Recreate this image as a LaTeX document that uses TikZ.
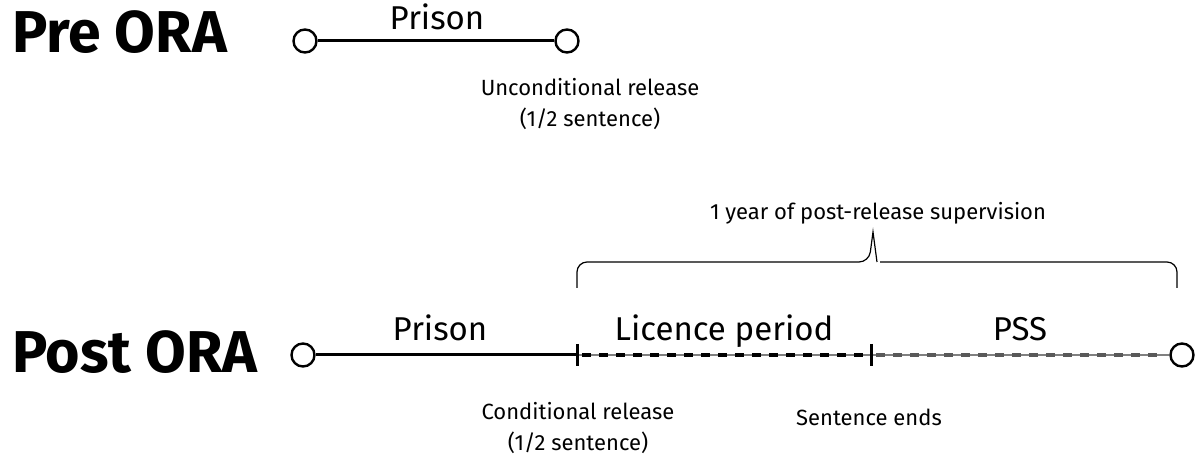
\documentclass[tikz,border=0pt]{standalone}
\usepackage{fontspec}
\setmainfont{Fira Sans}
\tikzset{
  endpt/.style={circle, draw, line width=2.4pt, minimum size=23pt, inner sep=0pt, fill=white},
  head/.style={anchor=base west, inner sep=0pt, font=\bfseries\fontsize{59}{62}\selectfont},
  period/.style={anchor=base, inner sep=0pt, font=\fontsize{33}{36}\selectfont},
  note/.style={align=center, inner sep=0pt, font=\fontsize{22}{31}\selectfont},
  dashline/.style={line width=3.5pt, dash pattern=on 9pt off 8pt, shorten <=5pt, shorten >=4pt}
}
\begin{document}
\begin{tikzpicture}[x=1pt, y=-1pt]
  \useasboundingbox (0,0) rectangle (1195,462);

  % Pre ORA
  \node[head] (preH) at (12,53) {Pre ORA};
  \node[endpt] (pa) at (305,41) {};
  \node[endpt] (pb) at (567,41) {};
  \draw[line width=3pt] (pa) -- (pb);
  \node[period] (preP) at (437,30) {Prison};
  \node[note] (uncond) at (590,104) {Unconditional release\\(1/2 sentence)};

  % Post ORA
  \node[head] (postH) at (12,373) {Post ORA};
  \node[endpt] (qa) at (303,355) {};
  \node[endpt] (qb) at (1182,355) {};
  \coordinate (t1) at (577,355);
  \coordinate (t2) at (871,355);
  \draw[line width=3pt] (qa) -- (t1);
  \draw[gray, line width=1.3pt] (t1) -- (t2);
  \draw[dashline] (t1) -- (t2);
  \draw[gray, line width=1.3pt] (t2) -- (qb);
  \draw[dashline, black!65, shorten >=10pt] (t2) -- (qb);
  \foreach \t in {t1,t2}
    \draw[line width=3pt] (\t) ++(0,-11) -- ++(0,22);
  \node[period] (postP) at (440,341) {Prison};
  \node[period] (lic) at (724,341) {Licence period};
  \node[period] (pss) at (1020,341) {PSS};
  \node[note] (cond) at (578,428) {Conditional release\\(1/2 sentence)};
  \node[note, anchor=base] (ends) at (869,425) {Sentence ends};

  % Brace
  \coordinate (b1) at (577,288);
  \coordinate (b2) at (1177,288);
  \coordinate (sp) at (873,232);
  \draw[line width=1.2pt, rounded corners=10pt] (b1) |- (869,262) [sharp corners] -- (sp) -- (877,262);
  \draw[line width=1.2pt, rounded corners=10pt] (880,262) -| (b2);
  \node[note, anchor=base] (sup) at (878,220) {1 year of post-release supervision};
\end{tikzpicture}
\end{document}
